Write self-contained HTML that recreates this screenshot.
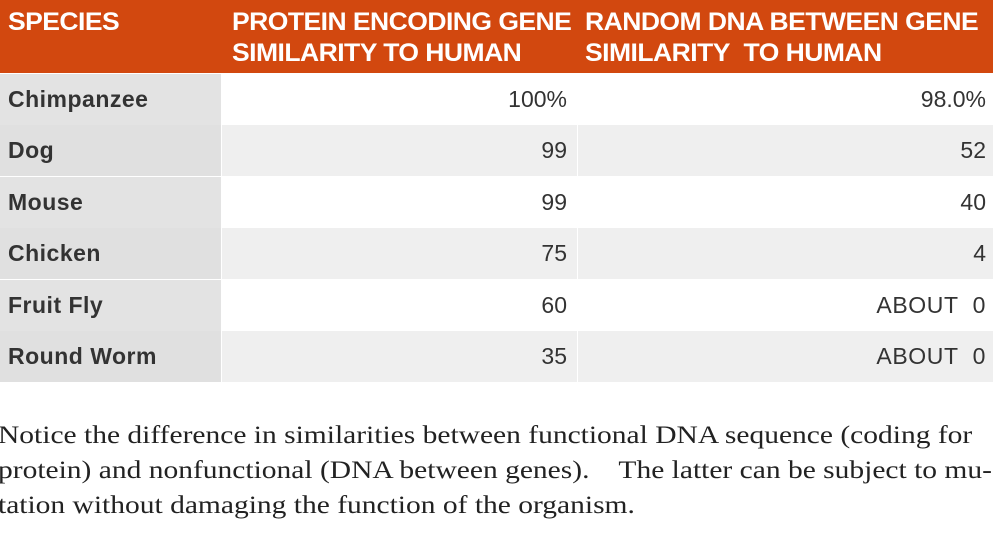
<!DOCTYPE html>
<html><head><meta charset="utf-8"><style>
body{margin:0;width:1000px;height:538px;background:#fff;overflow:hidden;position:relative;font-family:"Liberation Sans",sans-serif}
.hdr{position:absolute;left:0;top:0;width:993px;height:73px;background:#d2480f}
.h{position:absolute;color:#fff;font-weight:bold;font-size:25px;line-height:31px;letter-spacing:-0.5px;top:7px;white-space:nowrap;transform:scaleX(1.06);transform-origin:0 0}
.row{position:absolute;left:0;width:993px;height:51px}
.c1{position:absolute;left:0;top:0;width:221px;height:100%;background:#e3e3e3}
.c2{position:absolute;left:222px;top:0;width:355px;height:100%}
.c3{position:absolute;left:578px;top:0;width:415px;height:100%}
.row.alt .c2,.row.alt .c3{background:#efefef}
.row.alt .c1{background:#e0e0e0}
.t{position:absolute;top:12px;font-size:23px;color:#333;white-space:nowrap}
.b{font-weight:bold;left:8px;letter-spacing:0.5px}
.r2{right:10px}.r3{right:7px}
.ab{letter-spacing:0.6px}
p{position:absolute;left:-2px;top:418px;margin:0;font-family:"Liberation Serif",serif;font-size:25px;line-height:35px;color:#222;white-space:nowrap;transform:scaleX(1.18);transform-origin:0 0}
</style></head><body>
<div class="hdr">
<div class="h" style="left:8px">SPECIES</div>
<div class="h" style="left:232px">PROTEIN ENCODING GENE<br>SIMILARITY TO HUMAN</div>
<div class="h" style="left:585px">RANDOM DNA BETWEEN GENE<br>SIMILARITY&nbsp; TO HUMAN</div>
</div>
<div class="row" style="top:74px"><div class="c1"><span class="t b">Chimpanzee</span></div><div class="c2"><span class="t r2">100%</span></div><div class="c3"><span class="t r3">98.0%</span></div></div>
<div class="row alt" style="top:125px"><div class="c1"><span class="t b">Dog</span></div><div class="c2"><span class="t r2">99</span></div><div class="c3"><span class="t r3">52</span></div></div>
<div class="row" style="top:177px"><div class="c1"><span class="t b">Mouse</span></div><div class="c2"><span class="t r2">99</span></div><div class="c3"><span class="t r3">40</span></div></div>
<div class="row alt" style="top:228px"><div class="c1"><span class="t b">Chicken</span></div><div class="c2"><span class="t r2">75</span></div><div class="c3"><span class="t r3">4</span></div></div>
<div class="row" style="top:280px"><div class="c1"><span class="t b">Fruit Fly</span></div><div class="c2"><span class="t r2">60</span></div><div class="c3"><span class="t r3 ab">ABOUT&nbsp; 0</span></div></div>
<div class="row alt" style="top:331px"><div class="c1"><span class="t b">Round Worm</span></div><div class="c2"><span class="t r2">35</span></div><div class="c3"><span class="t r3 ab">ABOUT&nbsp; 0</span></div></div>
<p>Notice the difference in similarities between functional DNA sequence (coding for<br>protein) and nonfunctional (DNA between genes).&nbsp;&nbsp;&nbsp; The latter can be subject to mu-<br>tation without damaging the function of the organism.</p>
</body></html>
